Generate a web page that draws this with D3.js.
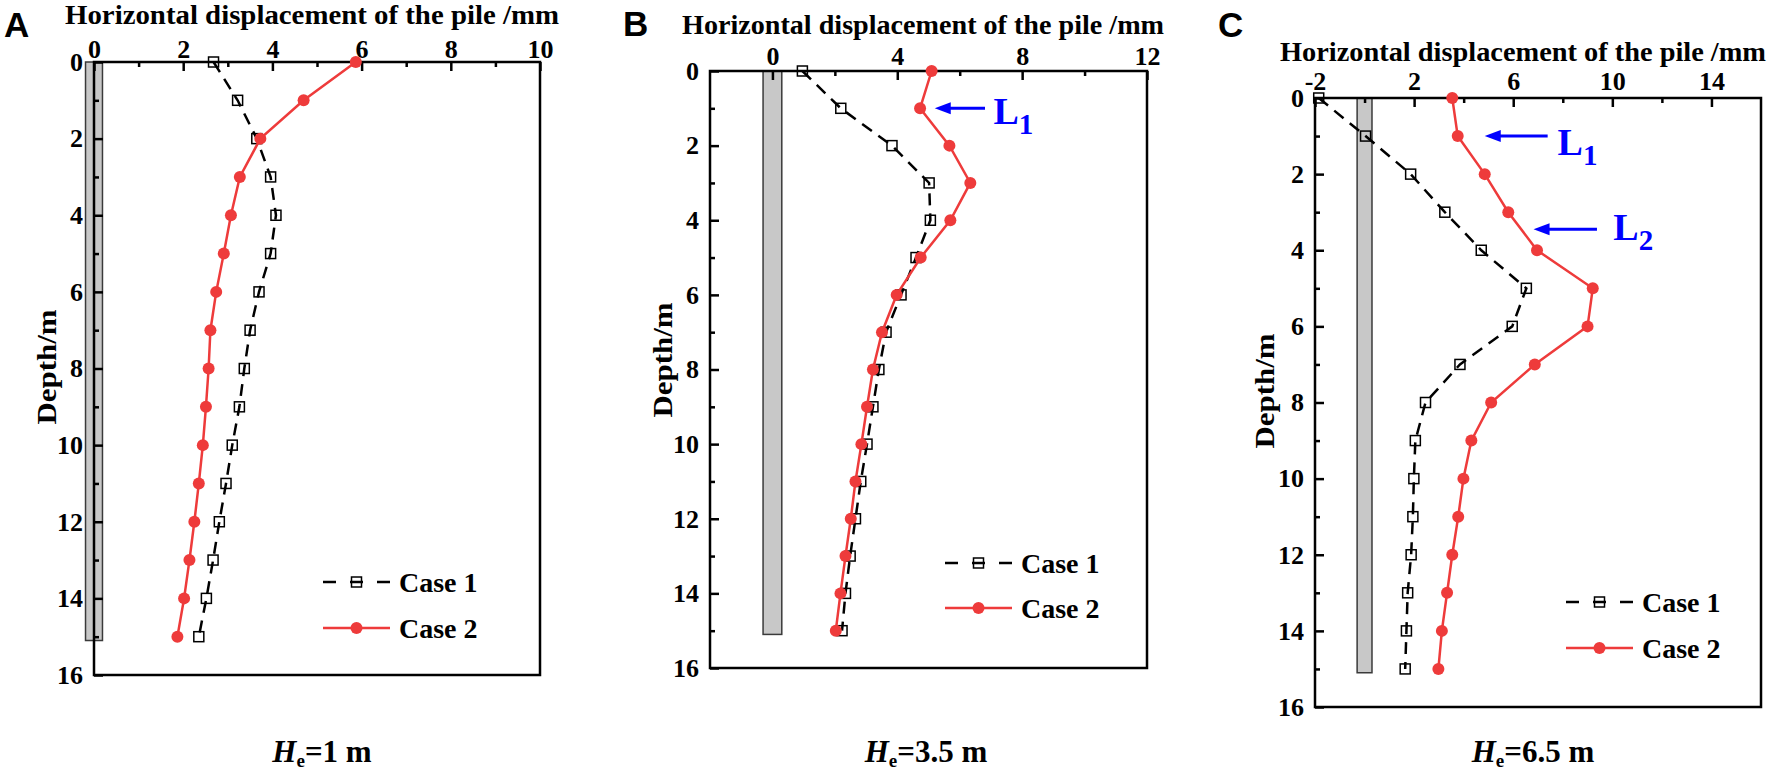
<!DOCTYPE html>
<html><head><meta charset="utf-8">
<script src="https://cdn.jsdelivr.net/npm/d3@7"></script>
<style>
body{margin:0;background:#fff;}
svg text{font-family:"Liberation Serif","Times New Roman",serif;font-weight:bold;fill:#000;}
</style></head><body>
<svg id="chart" width="1772" height="773"></svg>
<script>
// ---------------- data ----------------
const depths = [0,1,2,3,4,5,6,7,8,9,10,11,12,13,14,15];

const dispA_case1 = [2.68,3.22,3.65,3.96,4.08,3.96,3.70,3.50,3.37,3.26,3.10,2.96,2.81,2.67,2.52,2.35];
const dispA_case2 = [5.87,4.70,3.73,3.27,3.07,2.91,2.74,2.61,2.57,2.51,2.44,2.35,2.25,2.14,2.02,1.87];

const dispB_case1 = [0.96,2.19,3.83,5.02,5.06,4.60,4.12,3.64,3.41,3.22,3.03,2.83,2.66,2.49,2.34,2.23];
const dispB_case2 = [5.10,4.73,5.67,6.34,5.70,4.75,3.98,3.51,3.22,3.03,2.85,2.66,2.51,2.34,2.18,2.03];

const dispC_case1 = [-1.85,0.04,1.86,3.24,4.71,6.53,5.96,3.85,2.46,2.05,1.99,1.95,1.88,1.74,1.69,1.64];
const dispC_case2 = [3.54,3.76,4.85,5.80,6.96,9.21,9.00,6.87,5.11,4.31,3.99,3.78,3.54,3.33,3.12,2.98];

const xMajorA = [0,2,4,6,8,10],  xMinorA = [1,3,5,7,9];
const xMajorB = [0,4,8,12],      xMinorB = [2,6,10];
const xMajorC = [-2,2,6,10,14],  xMinorC = [0,4,8,12];
const yMajor = [0,2,4,6,8,10,12,14,16];
const yMinor = [1,3,5,7,9,11,13,15];

const pileDepth = 15.1;
const pileHalfWidth = [0.19, 0.3, 0.3];

const seriesNames = ["Case 1", "Case 2"];
const panelLetters = ["A","B","C"];
const excavationDepths = ["1","3.5","6.5"];
const axisTitleX = "Horizontal displacement of the pile /mm";
const axisTitleY = "Depth/m";

// annotations: [label, subscript, depth, tailX, tipX, textX, textDepth]
const annotB = [["L","1",1.0,6.81,5.20,7.08,1.42]];
const annotC = [["L","1",1.0,7.39,4.85,7.79,1.50],["L","2",3.45,9.38,6.82,10.04,3.73]];

// ---------------- layout ----------------
const panels = [
  {x0:94, x1:540, y0:62, y1:675, xDomain:[0,10], major:xMajorA, minor:xMinorA, pad:4,
   letter:{x:4,y:37}, title:{x:65,w:494,y:24}, depth:{bx:56,cy:367}, legend:{x:323,y:582,dy:46},
   bottom:{cx:322}, c1:dispA_case1, c2:dispA_case2, hw:pileHalfWidth[0], ann:[]},
  {x0:710, x1:1147, y0:71, y1:668, xDomain:[-2,12], major:xMajorB, minor:xMinorB, pad:6,
   letter:{x:623,y:36}, title:{x:682,w:482,y:34}, depth:{bx:672,cy:360}, legend:{x:945,y:563,dy:45},
   bottom:{cx:926}, c1:dispB_case1, c2:dispB_case2, hw:pileHalfWidth[1], ann:annotB},
  {x0:1315, x1:1761, y0:98, y1:707, xDomain:[-2,16], major:xMajorC, minor:xMinorC, pad:8,
   letter:{x:1218,y:37}, title:{x:1280,w:486,y:61}, depth:{bx:1274,cy:391}, legend:{x:1566,y:602,dy:46},
   bottom:{cx:1533}, c1:dispC_case1, c2:dispC_case2, hw:pileHalfWidth[2], ann:annotC}
];

const RED = "#EE3B3B", BLUE = "#0000FF";
const svg = d3.select("#chart");

panels.forEach((p, i) => {
  const x = d3.scaleLinear().domain(p.xDomain).range([p.x0, p.x1]);
  const y = d3.scaleLinear().domain([0,16]).range([p.y0, p.y1]);
  const g = svg.append("g");

  // pile
  g.append("rect")
    .attr("x", x(-p.hw)).attr("width", x(p.hw) - x(-p.hw))
    .attr("y", y(0)).attr("height", y(pileDepth) - y(0))
    .attr("fill", "#C8C8C8").attr("stroke", "#3a3a3a").attr("stroke-width", 1.5);

  // axes
  const styleAxis = (sel, fs) => {
    sel.select(".domain").remove();
    sel.selectAll(".tick line").attr("stroke", "#000").attr("stroke-width", 2.5);
    sel.selectAll(".tick text").attr("font-size", fs).attr("fill", "#000")
      .style("font-family", "'Liberation Serif','Times New Roman',serif").style("font-weight", "bold");
  };
  g.append("g").attr("transform", `translate(0,${p.y0})`)
    .call(d3.axisTop(x).tickValues(p.major).tickSize(-9).tickSizeOuter(0).tickPadding(p.pad).tickFormat(d => String(d)))
    .call(s => styleAxis(s, 26));
  g.append("g").attr("transform", `translate(0,${p.y0})`)
    .call(d3.axisTop(x).tickValues(p.minor).tickSize(-5).tickSizeOuter(0).tickFormat(""))
    .call(s => styleAxis(s, 26));
  g.append("g").attr("transform", `translate(${p.x0},0)`)
    .call(d3.axisLeft(y).tickValues(yMajor).tickSize(-9).tickSizeOuter(0).tickPadding(11).tickFormat(d => String(d)))
    .call(s => styleAxis(s, 26));
  g.append("g").attr("transform", `translate(${p.x0},0)`)
    .call(d3.axisLeft(y).tickValues(yMinor).tickSize(-5).tickSizeOuter(0).tickFormat(""))
    .call(s => styleAxis(s, 26));

  // frame
  g.append("rect").attr("x", p.x0).attr("y", p.y0)
    .attr("width", p.x1 - p.x0).attr("height", p.y1 - p.y0)
    .attr("fill", "none").attr("stroke", "#000").attr("stroke-width", 2.5);

  // series
  const line = d3.line().x(d => x(d[0])).y(d => y(d[1]));
  const s1 = p.c1.map((v, k) => [v, depths[k]]);
  const s2 = p.c2.map((v, k) => [v, depths[k]]);

  g.append("path").attr("d", line(s1)).attr("fill", "none")
    .attr("stroke", "#000").attr("stroke-width", 2.5).attr("stroke-dasharray", "12,8");
  g.selectAll(".sq").data(s1).enter().append("rect")
    .attr("x", d => x(d[0]) - 5).attr("y", d => y(d[1]) - 5)
    .attr("width", 10).attr("height", 10)
    .attr("fill", "none").attr("stroke", "#000").attr("stroke-width", 1.5);

  g.append("path").attr("d", line(s2)).attr("fill", "none")
    .attr("stroke", RED).attr("stroke-width", 2.5);
  g.selectAll(".ci").data(s2).enter().append("circle")
    .attr("cx", d => x(d[0])).attr("cy", d => y(d[1])).attr("r", 6).attr("fill", RED);

  // annotations
  p.ann.forEach(a => {
    const [lab, sub, dep, tail, tip, tx, tdep] = a;
    const yy = y(dep), xt = x(tip), xs = x(tail);
    g.append("line").attr("x1", xs).attr("x2", xt + 12).attr("y1", yy).attr("y2", yy)
      .attr("stroke", BLUE).attr("stroke-width", 3);
    g.append("path").attr("d", `M${xt},${yy}L${xt+16},${yy-6}L${xt+16},${yy+6}Z`).attr("fill", BLUE);
    const t = g.append("text").attr("x", x(tx)).attr("y", y(tdep)).attr("font-size", 38).style("fill", BLUE).text(lab);
    t.append("tspan").attr("font-size", 29).attr("dy", 10).style("fill", BLUE).text(sub);
  });

  // legend
  const L = p.legend;
  g.append("line").attr("x1", L.x).attr("x2", L.x + 67).attr("y1", L.y).attr("y2", L.y)
    .attr("stroke", "#000").attr("stroke-width", 2.5).attr("stroke-dasharray", "13,14");
  g.append("rect").attr("x", L.x + 33.5 - 5).attr("y", L.y - 5).attr("width", 10).attr("height", 10)
    .attr("fill", "none").attr("stroke", "#000").attr("stroke-width", 1.5);
  g.append("text").attr("x", L.x + 76).attr("y", L.y + 10).attr("font-size", 28).text(seriesNames[0]);
  g.append("line").attr("x1", L.x).attr("x2", L.x + 67).attr("y1", L.y + L.dy).attr("y2", L.y + L.dy)
    .attr("stroke", RED).attr("stroke-width", 2.5);
  g.append("circle").attr("cx", L.x + 33.5).attr("cy", L.y + L.dy).attr("r", 6).attr("fill", RED);
  g.append("text").attr("x", L.x + 76).attr("y", L.y + L.dy + 10).attr("font-size", 28).text(seriesNames[1]);

  // titles
  svg.append("text").attr("x", p.letter.x).attr("y", p.letter.y).attr("font-size", 35)
    .style("font-family", "'Liberation Sans',Arial,sans-serif").text(panelLetters[i]);
  svg.append("text").attr("x", p.title.x).attr("y", p.title.y).attr("font-size", 27)
    .attr("textLength", p.title.w).attr("lengthAdjust", "spacingAndGlyphs").text(axisTitleX);
  svg.append("text").attr("transform", `translate(${p.depth.bx},${p.depth.cy}) rotate(-90)`)
    .attr("text-anchor", "middle").attr("font-size", 28)
    .attr("textLength", 115).attr("lengthAdjust", "spacingAndGlyphs").text(axisTitleY);

  const bt = svg.append("text").attr("x", p.bottom.cx).attr("y", 762).attr("text-anchor", "middle").attr("font-size", 31);
  bt.append("tspan").attr("font-style", "italic").text("H");
  bt.append("tspan").attr("font-size", 19).attr("dy", 5).text("e");
  bt.append("tspan").attr("dy", -5).text("=" + excavationDepths[i] + " m");
});
</script>
</body></html>
